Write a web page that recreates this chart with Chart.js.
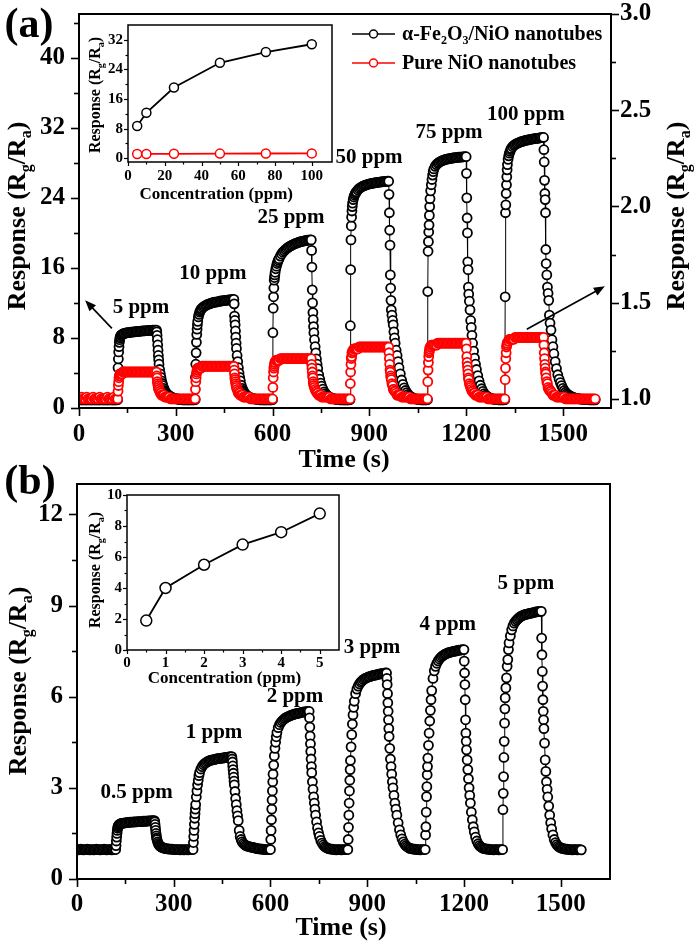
<!DOCTYPE html>
<html>
<head>
<meta charset="utf-8">
<script src="https://cdn.jsdelivr.net/npm/chart.js@4.4.0/dist/chart.umd.min.js"></script>
<style>
  body { margin: 0; background: #fff; }
  #wrap { position: relative; width: 700px; height: 947px; overflow: hidden; }
  canvas { position: absolute; }
</style>
</head>
<body>
<div id="wrap">
  <canvas id="chart-a" width="700" height="480" style="left:0;top:0"></canvas>
  <canvas id="chart-b" width="700" height="492" style="left:0;top:455px"></canvas>
  <canvas id="inset-a" width="262" height="195" style="left:80px;top:15px"></canvas>
  <canvas id="inset-b" width="268" height="210" style="left:80px;top:485px"></canvas>
</div>
<script>
// sampling times (s), shared by both transient curves
const sampleTime = [
  0,4,8,12,16,20,24,28,32,36,40,44,48,52,56,60,64,68,72,76,80,84,88,92,96,100,104,108,112,116,
  120,121,122,123,124,125,126,127,128,130,132,134,136,138,140,144,148,152,156,160,164,168,172,176,180,184,188,192,196,200,204,208,212,216,220,224,228,232,236,
  240,241,242,243,244,245,246,247,248,250,252,254,256,258,260,263,266,269,272,276,280,284,288,292,296,300,304,308,312,316,320,324,328,332,336,340,344,348,352,356,
  360,361,362,363,364,365,366,367,368,370,372,374,376,378,380,384,388,392,396,400,404,408,412,416,420,424,428,432,436,440,444,448,452,456,460,464,468,472,476,
  480,481,482,483,484,485,486,487,488,490,492,494,496,498,500,503,506,509,512,516,520,524,528,532,536,540,544,548,552,556,560,564,568,572,576,580,584,588,592,596,
  600,601,602,603,604,605,606,607,608,610,612,614,616,618,620,624,628,632,636,640,644,648,652,656,660,664,668,672,676,680,684,688,692,696,700,704,708,712,716,
  720,721,722,723,724,725,726,727,728,730,732,734,736,738,740,743,746,749,752,756,760,764,768,772,776,780,784,788,792,796,800,804,808,812,816,820,824,828,832,836,
  840,841,842,843,844,845,846,847,848,850,852,854,856,858,860,864,868,872,876,880,884,888,892,896,900,904,908,912,916,920,924,928,932,936,940,944,948,952,956,
  960,961,962,963,964,965,966,967,968,970,972,974,976,978,980,983,986,989,992,996,1000,1004,1008,1012,1016,1020,1024,1028,1032,1036,1040,1044,1048,1052,1056,1060,1064,1068,1072,1076,
  1080,1081,1082,1083,1084,1085,1086,1087,1088,1090,1092,1094,1096,1098,1100,1104,1108,1112,1116,1120,1124,1128,1132,1136,1140,1144,1148,1152,1156,1160,1164,1168,1172,1176,1180,1184,1188,1192,1196,
  1200,1201,1202,1203,1204,1205,1206,1207,1208,1210,1212,1214,1216,1218,1220,1223,1226,1229,1232,1236,1240,1244,1248,1252,1256,1260,1264,1268,1272,1276,1280,1284,1288,1292,1296,1300,1304,1308,1312,1316,
  1320,1321,1322,1323,1324,1325,1326,1327,1328,1330,1332,1334,1336,1338,1340,1344,1348,1352,1356,1360,1364,1368,1372,1376,1380,1384,1388,1392,1396,1400,1404,1408,1412,1416,1420,1424,1428,1432,1436,
  1440,1441,1442,1443,1444,1445,1446,1447,1448,1450,1452,1454,1456,1458,1460,1463,1466,1469,1472,1476,1480,1484,1488,1492,1496,1500,1504,1508,1512,1516,1520,1524,1528,1532,1536,1540,1544,1548,1552,1556,
  1560,1564,1568,1572,1576,1580,1584,1588,1592,1596,1600
];

// (a) alpha-Fe2O3/NiO nanotubes, 5-100 ppm (left axis)
const feNiOA = [
  0.94,0.93,0.93,0.94,0.93,0.92,0.93,0.94,0.93,0.93,0.92,0.93,0.94,0.93,0.93,0.93,0.92,0.93,0.94,0.93,0.93,0.93,0.92,0.93,0.94,0.93,0.93,0.92,0.93,0.93,
  0.95,4.6,5.6,6.4,7.0,7.5,7.8,8.0,8.15,8.3,8.35,8.4,8.45,8.5,8.5,8.55,8.6,8.6,8.62,8.65,8.67,8.7,8.7,8.72,8.74,8.75,8.76,8.78,8.8,8.8,8.82,8.83,8.84,8.85,8.86,8.87,8.88,8.89,8.9,
  8.9,8.7,8.3,7.8,7.2,6.6,6.0,5.5,5.0,4.4,3.9,3.5,3.1,2.8,2.55,2.25,2.0,1.8,1.65,1.5,1.4,1.3,1.22,1.16,1.1,1.06,1.03,1.0,0.97,0.95,0.94,0.93,0.94,0.93,0.93,0.92,0.93,0.94,0.93,0.93,
  0.95,3.5,5.0,6.3,7.5,8.4,9.0,9.5,9.9,10.4,10.7,10.95,11.1,11.25,11.35,11.5,11.6,11.7,11.78,11.85,11.9,11.95,12.0,12.05,12.08,12.1,12.13,12.16,12.19,12.22,12.24,12.26,12.28,12.3,12.32,12.34,12.36,12.38,12.4,
  12.4,11.9,10.5,10.0,9.5,8.8,8.1,7.4,6.8,6.0,5.3,4.6,4.0,3.5,3.1,2.6,2.25,2.0,1.8,1.6,1.45,1.33,1.24,1.17,1.11,1.07,1.04,1.01,0.98,0.95,0.94,0.93,0.94,0.93,0.92,0.93,0.93,0.94,0.93,0.93,
  0.95,8.6,11.4,12.7,13.7,14.6,14.9,15.2,15.5,15.9,16.2,16.5,16.7,16.9,17.05,17.35,17.6,17.8,17.95,18.1,18.22,18.33,18.43,18.52,18.6,18.67,18.74,18.8,18.86,18.91,18.96,19.0,19.04,19.07,19.1,19.13,19.16,19.18,19.2,
  19.2,18.0,16.1,13.5,12.0,10.9,10.1,9.3,8.6,7.8,7.0,6.3,5.6,5.0,4.5,3.8,3.3,2.85,2.5,2.15,1.85,1.65,1.48,1.36,1.26,1.18,1.12,1.07,1.03,1.0,0.97,0.95,0.94,0.93,0.94,0.93,0.92,0.93,0.93,0.93,
  0.95,9.4,15.8,19.2,20.8,21.8,22.5,23.0,23.4,23.8,24.1,24.3,24.45,24.6,24.7,24.9,25.05,25.15,25.25,25.33,25.4,25.46,25.51,25.55,25.59,25.63,25.66,25.69,25.72,25.74,25.76,25.78,25.8,25.82,25.84,25.86,25.87,25.89,25.9,
  25.9,24.4,22.3,20.3,18.6,15.2,13.7,12.3,11.2,10.6,10.0,9.5,8.7,8.0,7.4,6.6,6.0,5.3,4.6,3.9,3.2,2.7,2.3,2.0,1.75,1.55,1.4,1.3,1.2,1.13,1.08,1.04,1.0,0.97,0.95,0.94,0.93,0.94,0.93,0.93,
  0.95,13.3,17.9,19.0,20.1,20.9,22.0,23.0,23.9,24.8,25.5,26.1,26.6,27.0,27.3,27.6,27.8,27.95,28.05,28.15,28.22,28.28,28.33,28.38,28.42,28.45,28.48,28.51,28.54,28.56,28.58,28.6,28.62,28.64,28.65,28.66,28.68,28.69,28.7,
  28.7,26.8,24.0,21.7,20.0,16.7,15.8,13.8,13.0,12.2,11.2,10.0,9.2,8.3,7.4,6.5,5.7,5.0,4.4,3.7,3.1,2.6,2.2,1.9,1.65,1.48,1.35,1.25,1.17,1.11,1.06,1.02,0.99,0.97,0.95,0.94,0.93,0.94,0.93,0.93,
  0.95,12.7,22.3,23.2,24.5,25.5,26.4,27.2,27.8,28.4,28.8,29.1,29.3,29.5,29.65,29.85,30.0,30.1,30.18,30.25,30.32,30.38,30.43,30.48,30.52,30.56,30.6,30.63,30.66,30.69,30.72,30.74,30.76,30.78,30.8,30.83,30.85,30.87,30.9,
  30.9,29.5,28.1,26.0,24.5,23.8,22.3,18.1,16.5,15.2,13.8,13.1,12.3,10.6,9.7,8.9,7.8,7.0,6.2,5.3,4.5,3.8,3.3,2.9,2.55,2.25,2.0,1.8,1.65,1.52,1.42,1.34,1.27,1.21,1.16,1.12,1.09,1.06,1.04,1.02,
  1.0,0.98,0.97,0.96,0.95,0.94,0.94,0.93,0.93,0.94,0.93
];

// (a) pure NiO nanotubes (right axis)
const nioA = [
  1.0,1.0,1.01,1.0,1.0,1.0,1.01,1.0,1.0,1.0,1.0,1.01,1.0,1.0,1.0,1.0,1.01,1.0,1.0,1.0,1.0,1.0,1.01,1.0,1.0,1.0,1.0,1.01,1.0,1.0,
  1.0,1.04,1.07,1.09,1.11,1.12,1.12,1.13,1.13,1.13,1.13,1.13,1.14,
  1.14,1.14,1.14,1.14,1.14,1.14,1.14,1.14,1.14,1.14,
  1.14,1.14,1.14,1.14,1.14,1.14,1.14,1.14,1.14,1.14,
  1.14,1.14,1.14,1.14,1.14,1.14,
  1.14,1.12,1.11,1.09,1.08,1.07,1.06,1.05,1.05,1.04,1.03,1.03,1.02,1.02,1.02,1.02,1.01,1.01,1.01,1.01,1.01,
  1.0,1.0,1.0,1.0,1.0,1.0,1.0,1.0,1.0,1.0,
  1.0,1.0,1.0,1.0,1.0,1.0,1.0,1.0,1.0,
  1.0,1.05,1.09,1.11,1.13,1.14,1.15,1.15,1.16,1.16,1.16,1.16,1.16,1.16,1.17,
  1.17,1.17,1.17,1.17,1.17,1.17,1.17,1.17,1.17,1.17,
  1.17,1.17,1.17,1.17,1.17,1.17,1.17,1.17,1.17,1.17,
  1.17,1.17,1.17,1.17,
  1.17,1.15,1.13,1.11,1.1,1.09,1.08,1.07,1.06,1.05,1.04,1.03,1.03,1.03,1.02,1.02,1.02,1.01,1.01,1.01,1.01,1.01,1.01,
  1.0,1.0,1.0,1.0,1.0,1.0,1.0,1.0,1.0,1.0,
  1.0,1.0,1.0,1.0,1.0,1.0,1.0,
  1.0,1.06,1.11,1.14,1.16,1.17,1.18,1.19,1.19,1.2,1.2,1.2,1.2,1.2,1.2,1.21,
  1.21,1.21,1.21,1.21,1.21,1.21,1.21,1.21,1.21,1.21,
  1.21,1.21,1.21,1.21,1.21,1.21,1.21,1.21,1.21,1.21,
  1.21,1.21,1.21,
  1.21,1.18,1.16,1.14,1.12,1.11,1.09,1.08,1.07,1.06,1.05,1.04,1.04,1.03,1.03,1.02,1.02,1.02,1.01,1.01,1.01,1.01,1.01,1.01,1.01,
  1.0,1.0,1.0,1.0,1.0,1.0,1.0,1.0,1.0,1.0,
  1.0,1.0,1.0,1.0,1.0,
  1.0,1.08,1.14,1.18,1.21,1.22,1.24,1.24,1.25,1.25,1.26,1.26,1.26,1.26,1.26,1.26,1.27,
  1.27,1.27,1.27,1.27,1.27,1.27,1.27,1.27,1.27,1.27,
  1.27,1.27,1.27,1.27,1.27,1.27,1.27,1.27,1.27,1.27,
  1.27,1.27,
  1.27,1.24,1.21,1.18,1.15,1.14,1.12,1.11,1.1,1.08,1.07,1.05,1.05,1.04,1.04,1.03,1.02,1.02,1.02,1.02,1.01,1.01,1.01,1.01,1.01,1.01,1.01,
  1.0,1.0,1.0,1.0,1.0,1.0,1.0,1.0,1.0,1.0,
  1.0,1.0,1.0,
  1.0,1.09,1.15,1.19,1.22,1.24,1.25,1.26,1.27,1.27,1.28,1.28,1.28,1.28,1.28,1.28,1.28,1.29,
  1.29,1.29,1.29,1.29,1.29,1.29,1.29,1.29,1.29,1.29,
  1.29,1.29,1.29,1.29,1.29,1.29,1.29,1.29,1.29,1.29,
  1.29,
  1.29,1.26,1.22,1.19,1.17,1.15,1.13,1.11,1.1,1.08,1.07,1.06,1.05,1.04,1.04,1.03,1.03,1.02,1.02,1.02,1.01,1.01,1.01,1.01,1.01,1.01,1.01,
  1.0,1.0,1.0,1.0,1.0,1.0,1.0,1.0,1.0,1.0,
  1.0,1.0,1.0,
  1.0,1.1,1.16,1.21,1.24,1.27,1.28,1.29,1.29,1.3,1.3,1.31,1.31,1.31,1.31,1.31,1.31,1.32,
  1.32,1.32,1.32,1.32,1.32,1.32,1.32,1.32,1.32,1.32,
  1.32,1.32,1.32,1.32,1.32,1.32,1.32,1.32,1.32,1.32,
  1.32,
  1.32,1.28,1.24,1.21,1.18,1.16,1.14,1.13,1.11,1.09,1.08,1.06,1.05,1.05,1.04,1.04,1.03,1.02,1.02,1.02,1.01,1.01,1.01,1.01,1.01,1.01,1.01,
  1.0,1.0,1.0,1.0,1.0,1.0,1.0,1.0,1.0,1.0,
  1.0,1.0,1.0,
  1.0,1.0,1.0,1.0,1.0,1.0,1.0,1.0,1.0,1.0,1.0
];

// (b) alpha-Fe2O3/NiO nanotubes, 0.5-5 ppm
const feNiOB = [
  0.97,0.96,0.97,0.98,0.97,0.96,0.97,0.97,0.98,0.97,0.96,0.97,0.97,0.96,0.97,0.98,0.97,0.97,0.96,0.97,0.97,0.98,0.97,0.96,0.97,0.97,0.97,0.96,0.97,0.97,
  0.97,1.1,1.25,1.38,1.5,1.6,1.67,1.72,1.75,1.78,1.8,1.81,1.82,1.83,1.83,1.84,1.85,1.85,1.86,1.86,1.87,1.87,1.87,1.88,1.88,1.88,1.89,1.89,1.89,1.89,1.9,1.9,1.9,1.9,1.91,1.91,1.91,1.92,1.92,
  1.92,1.88,1.8,1.7,1.6,1.5,1.42,1.35,1.3,1.22,1.17,1.13,1.1,1.08,1.06,1.04,1.03,1.02,1.01,1.0,0.99,0.99,0.98,0.98,0.98,0.97,0.97,0.97,0.97,0.97,0.96,0.97,0.97,0.96,0.97,0.97,0.96,0.97,0.97,0.97,
  0.97,1.2,1.4,1.6,1.8,2.0,2.15,2.3,2.45,2.7,2.9,3.1,3.25,3.4,3.5,3.62,3.7,3.76,3.8,3.83,3.86,3.88,3.9,3.91,3.92,3.93,3.94,3.95,3.96,3.96,3.97,3.98,3.98,3.99,4.0,4.0,4.01,4.02,4.03,
  4.03,3.95,3.85,3.72,3.6,3.48,3.35,3.22,3.1,2.88,2.65,2.45,2.25,2.08,1.92,1.6,1.4,1.3,1.22,1.17,1.13,1.1,1.08,1.07,1.06,1.05,1.04,1.03,1.02,1.01,1.0,0.99,0.99,0.98,0.98,0.97,0.97,0.97,0.97,0.97,
  0.97,1.3,1.6,1.95,2.3,2.6,2.9,3.2,3.45,3.75,4.05,4.3,4.5,4.68,4.82,4.98,5.08,5.15,5.2,5.24,5.28,5.31,5.33,5.35,5.37,5.39,5.4,5.42,5.43,5.44,5.45,5.46,5.47,5.48,5.49,5.5,5.5,5.51,5.52,
  5.52,5.3,5.0,4.7,4.45,4.2,3.95,3.7,3.5,3.2,2.95,2.7,2.5,2.3,2.1,1.88,1.68,1.52,1.4,1.27,1.18,1.12,1.07,1.04,1.02,1.0,0.99,0.98,0.98,0.97,0.97,0.96,0.97,0.97,0.97,0.96,0.97,0.97,0.97,0.97,
  0.97,1.3,1.7,2.1,2.5,2.9,3.25,3.6,3.9,4.35,4.75,5.1,5.4,5.65,5.85,6.1,6.25,6.35,6.42,6.48,6.52,6.56,6.59,6.61,6.63,6.65,6.66,6.68,6.69,6.7,6.71,6.72,6.73,6.74,6.75,6.76,6.76,6.77,6.78,
  6.78,6.6,6.4,6.1,5.8,5.52,5.24,4.95,4.69,4.3,3.95,3.7,3.45,3.2,3.0,2.75,2.5,2.3,2.1,1.85,1.62,1.45,1.32,1.22,1.15,1.1,1.06,1.03,1.01,1.0,0.99,0.98,0.98,0.97,0.97,0.97,0.96,0.97,0.97,0.97,
  0.97,1.45,1.72,2.2,2.71,3.04,3.43,3.7,3.98,4.4,4.8,5.2,5.55,5.9,6.2,6.6,6.85,7.0,7.1,7.18,7.24,7.29,7.33,7.36,7.39,7.41,7.43,7.45,7.46,7.47,7.48,7.49,7.5,7.51,7.52,7.53,7.53,7.54,7.55,
  7.55,7.17,6.78,6.4,5.9,5.24,4.8,4.53,4.25,3.92,3.6,3.3,3.0,2.75,2.5,2.2,1.95,1.72,1.55,1.38,1.25,1.16,1.1,1.06,1.03,1.01,1.0,0.99,0.98,0.98,0.97,0.97,0.97,0.96,0.97,0.97,0.97,0.96,0.97,0.97,
  0.97,2.28,2.82,3.37,4.0,4.53,5.13,5.6,5.96,6.29,6.62,7.0,7.22,7.55,7.77,8.0,8.2,8.33,8.42,8.48,8.53,8.57,8.61,8.64,8.66,8.68,8.7,8.71,8.72,8.73,8.74,8.75,8.76,8.77,8.78,8.79,8.8,8.8,8.81,
  8.81,7.93,7.38,6.83,6.35,5.9,5.52,5.24,4.95,4.47,3.92,3.54,3.2,2.95,2.7,2.4,2.1,1.85,1.65,1.45,1.3,1.2,1.13,1.08,1.05,1.03,1.01,1.0,0.99,0.98,0.98,0.97,0.97,0.97,0.96,0.97,0.97,0.97,0.96,0.97,
  0.97,0.96
];

// insets: response vs concentration
const concA = [5, 10, 25, 50, 75, 100];
const insetFeNiOA = [8.7, 12.3, 19.1, 25.8, 28.7, 30.8];
const insetNiOA = [1.14, 1.17, 1.21, 1.27, 1.29, 1.32];
const concB = [0.5, 1, 2, 3, 4, 5];
const insetFeNiOB = [1.9, 4.0, 5.5, 6.8, 7.6, 8.8];

const doseLabelsA = ['5 ppm', '10 ppm', '25 ppm', '50 ppm', '75 ppm', '100 ppm'];
const doseLabelsB = ['0.5 ppm', '1 ppm', '2 ppm', '3 ppm', '4 ppm', '5 ppm'];

// tick values
const timeTicks = [0, 300, 600, 900, 1200, 1500];
const timeMinor = [150, 450, 750, 1050, 1350];
const respTicksA = [0, 8, 16, 24, 32, 40];
const respMinorA = [4, 12, 20, 28, 36, 44];
const ratioTicksA = [1.0, 1.5, 2.0, 2.5, 3.0];
const ratioMinorA = [1.25, 1.75, 2.25, 2.75];
const respTicksB = [0, 3, 6, 9, 12];
const respMinorB = [1.5, 4.5, 7.5, 10.5];
const concTicksA = [0, 20, 40, 60, 80, 100];
const concMinorA = [10, 30, 50, 70, 90];
const insetRespTicksA = [0, 8, 16, 24, 32];
const insetRespMinorA = [4, 12, 20, 28];
const concTicksB = [0, 1, 2, 3, 4, 5];
const concMinorB = [0.5, 1.5, 2.5, 3.5, 4.5];
const insetRespTicksB = [0, 2, 4, 6, 8, 10];
const insetRespMinorB = [1, 3, 5, 7, 9];

const FONT = "'Liberation Serif', 'Times New Roman', serif";
const RED = '#ff0000';
const RESP_TITLE = [{t: 'Response (R'}, {t: 'g', sub: true}, {t: '/R'}, {t: 'a', sub: true}, {t: ')'}];

const pts = (xs, ys) => ys.map((y, i) => ({x: xs[i], y: y}));

function axis(o) {
    return {
        type: 'linear',
        position: o.position,
        min: o.min,
        max: o.max,
        grid: { display: false, drawTicks: false },
        border: { display: false },
        afterBuildTicks: s => { s.ticks = o.ticks.map(v => ({ value: v })); },
        afterFit: s => {
            if (o.width != null) s.width = o.width;
            if (o.height != null) s.height = o.height;
            // the plot box is placed by hand, so labels may overhang it
            s.paddingTop = 0; s.paddingBottom = 0;
            s.paddingLeft = 0; s.paddingRight = 0;
        },
        ticks: {
            autoSkip: false,
            maxRotation: 0,
            padding: o.pad,
            color: '#000',
            font: { family: FONT, weight: 'bold', size: o.size },
            callback: o.fmt || (v => String(v))
        }
    };
}

// box around the plot and outward tick marks
function frameTicks(spec) {
    return {
        id: 'frameTicks',
        beforeDraw(chart) {
            if (!spec.fill) return;
            const a = chart.chartArea;
            chart.ctx.save();
            chart.ctx.fillStyle = '#fff';
            chart.ctx.fillRect(a.left, a.top, a.width, a.height);
            chart.ctx.restore();
        },
        afterDatasetsDraw(chart) {
            const { ctx, chartArea: a } = chart;
            ctx.save();
            ctx.strokeStyle = '#000';
            ctx.lineWidth = spec.tickWidth;
            spec.axes.forEach(ax => {
                const scale = chart.scales[ax.id];
                const mark = (v, len) => {
                    const p = Math.round(scale.getPixelForValue(v)) + 0.5;
                    ctx.beginPath();
                    if (ax.side === 'bottom') { ctx.moveTo(p, a.bottom); ctx.lineTo(p, a.bottom + len); }
                    else if (ax.side === 'left') { ctx.moveTo(a.left, p); ctx.lineTo(a.left - len, p); }
                    else { ctx.moveTo(a.right, p); ctx.lineTo(a.right + len, p); }
                    ctx.stroke();
                };
                ax.major.forEach(v => mark(v, spec.majorLen));
                ax.minor.forEach(v => mark(v, spec.minorLen));
            });
            ctx.lineWidth = spec.frameWidth;
            ctx.strokeRect(a.left, a.top, a.width, a.height);
            ctx.restore();
        }
    };
}

// text with subscripts; y is the baseline
function drawRich(ctx, parts, x, y, size, align, rotate) {
    ctx.save();
    ctx.translate(x, y);
    if (rotate) ctx.rotate(rotate);
    ctx.fillStyle = '#000';
    ctx.textBaseline = 'alphabetic';
    ctx.textAlign = 'left';
    const subSize = Math.round(size * 0.62);
    let w = 0;
    const widths = parts.map(p => {
        ctx.font = `bold ${p.sub ? subSize : size}px ${FONT}`;
        const pw = ctx.measureText(p.t).width;
        w += pw;
        return pw;
    });
    let cx = align === 'center' ? -w / 2 : 0;
    parts.forEach((p, i) => {
        ctx.font = `bold ${p.sub ? subSize : size}px ${FONT}`;
        ctx.fillText(p.t, cx, p.sub ? size * 0.22 : 0);
        cx += widths[i];
    });
    ctx.restore();
}

function drawArrow(ctx, x1, y1, x2, y2) {
    const ang = Math.atan2(y2 - y1, x2 - x1), L = 11, W = 4.5;
    const c = Math.cos(ang), s = Math.sin(ang);
    ctx.save();
    ctx.strokeStyle = '#000';
    ctx.fillStyle = '#000';
    ctx.lineWidth = 1.6;
    ctx.beginPath();
    ctx.moveTo(x1, y1);
    ctx.lineTo(x2 - L * 0.8 * c, y2 - L * 0.8 * s);
    ctx.stroke();
    ctx.beginPath();
    ctx.moveTo(x2, y2);
    ctx.lineTo(x2 - L * c + W * s, y2 - L * s - W * c);
    ctx.lineTo(x2 - L * c - W * s, y2 - L * s + W * c);
    ctx.closePath();
    ctx.fill();
    ctx.restore();
}

function doseNotes(chart, labels, anchors) {
    const ctx = chart.ctx, xs = chart.scales.x, ys = chart.scales.y;
    ctx.save();
    ctx.fillStyle = '#000';
    ctx.font = `bold 21px ${FONT}`;
    ctx.textAlign = 'center';
    ctx.textBaseline = 'middle';
    labels.forEach((txt, i) => {
        ctx.fillText(txt, xs.getPixelForValue(anchors[i][0]), ys.getPixelForValue(anchors[i][1]));
    });
    ctx.restore();
}

const notesA = {
    id: 'notesA',
    afterDraw(chart) {
        const ctx = chart.ctx, xs = chart.scales.x, ys = chart.scales.y;
        doseNotes(chart, doseLabelsA, [[192, 11.5], [415, 15.4], [657, 21.8], [899, 28.6], [1147, 31.5], [1385, 33.5]]);
        drawArrow(ctx, xs.getPixelForValue(102), ys.getPixelForValue(9.1), xs.getPixelForValue(19), ys.getPixelForValue(12.3));
        drawArrow(ctx, xs.getPixelForValue(1388), ys.getPixelForValue(9.0), xs.getPixelForValue(1630), ys.getPixelForValue(13.9));

        // legend
        const rows = [
            { color: '#000', y: 34, text: [{t: '\u03b1-Fe'}, {t: '2', sub: true}, {t: 'O'}, {t: '3', sub: true}, {t: '/NiO nanotubes'}] },
            { color: RED, y: 63, text: [{t: 'Pure NiO nanotubes'}] }
        ];
        rows.forEach(r => {
            ctx.save();
            ctx.strokeStyle = r.color;
            ctx.lineWidth = 1.5;
            ctx.beginPath();
            ctx.moveTo(352, r.y); ctx.lineTo(395, r.y);
            ctx.stroke();
            ctx.fillStyle = '#fff';
            ctx.beginPath();
            ctx.arc(373.5, r.y, 4, 0, Math.PI * 2);
            ctx.fill();
            ctx.stroke();
            ctx.restore();
            drawRich(ctx, r.text, 402, r.y + 6, 20, 'left');
        });

        ctx.save();
        ctx.font = `bold 42px ${FONT}`;
        ctx.textAlign = 'center';
        ctx.textBaseline = 'middle';
        ctx.fillStyle = '#000';
        ctx.fillText('(a)', 29, 26);
        ctx.restore();

        drawRich(ctx, RESP_TITLE, 25, 216, 26, 'center', -Math.PI / 2);
        drawRich(ctx, RESP_TITLE, 684, 216, 26, 'center', -Math.PI / 2);
        drawRich(ctx, [{t: 'Time (s)'}], 344, 467, 26, 'center');
    }
};

const notesB = {
    id: 'notesB',
    afterDraw(chart) {
        const ctx = chart.ctx;
        doseNotes(chart, doseLabelsB, [[185, 2.84], [425, 4.81], [676, 6.0], [915, 7.62], [1150, 8.37], [1392, 9.73]]);
        ctx.save();
        ctx.font = `bold 42px ${FONT}`;
        ctx.textAlign = 'center';
        ctx.textBaseline = 'middle';
        ctx.fillStyle = '#000';
        ctx.fillText('(b)', 30, 28);
        ctx.restore();
        drawRich(ctx, RESP_TITLE, 26, 226, 26, 'center', -Math.PI / 2);
        drawRich(ctx, [{t: 'Time (s)'}], 341, 480, 26, 'center');
    }
};

function insetNotes(xTitleValue, xTitleY, yTitleY) {
    return {
        id: 'insetNotes',
        afterDraw(chart) {
            const ctx = chart.ctx;
            drawRich(ctx, RESP_TITLE, 20, yTitleY, 16, 'center', -Math.PI / 2);
            drawRich(ctx, [{t: 'Concentration (ppm)'}], chart.scales.x.getPixelForValue(xTitleValue), xTitleY, 17, 'center');
        }
    };
}

const common = {
    responsive: false,
    animation: false,
    devicePixelRatio: 1,
    events: [],
    plugins: { legend: { display: false }, tooltip: { enabled: false } }
};

function series(data, color, axisId, order, radius, border, lineWidth) {
    return {
        data: data,
        yAxisID: axisId,
        order: order,
        borderColor: color,
        borderWidth: lineWidth,
        pointRadius: radius,
        pointBorderWidth: border,
        pointBorderColor: color,
        pointBackgroundColor: '#fff',
        tension: 0
    };
}

// panel (a)
new Chart(document.getElementById('chart-a'), {
    type: 'line',
    data: {
        datasets: [
            series(pts(sampleTime, nioA), RED, 'y2', 1, 4.5, 1.8, 1),
            series(pts(sampleTime, feNiOA), '#000', 'y', 2, 4.5, 1.8, 1)
        ]
    },
    options: {
        ...common,
        layout: { padding: { top: 14 } },
        scales: {
            x: axis({ position: 'bottom', min: 0, max: 1649, ticks: timeTicks, pad: 12, size: 25, height: 72 }),
            y: axis({ position: 'left', min: 0, max: 45, ticks: respTicksA, pad: 14, size: 25, width: 79 }),
            y2: axis({ position: 'right', min: 0.953, max: 3.0, ticks: ratioTicksA, pad: 9, size: 25, width: 89, fmt: v => v.toFixed(1) })
        }
    },
    plugins: [frameTicks({
        frameWidth: 2, tickWidth: 1.6, majorLen: 8, minorLen: 5,
        axes: [
            { id: 'x', side: 'bottom', major: timeTicks, minor: timeMinor },
            { id: 'y', side: 'left', major: respTicksA, minor: respMinorA },
            { id: 'y2', side: 'right', major: ratioTicksA, minor: ratioMinorA }
        ]
    }), notesA]
});

// panel (b)
new Chart(document.getElementById('chart-b'), {
    type: 'line',
    data: {
        datasets: [series(pts(sampleTime, feNiOB), '#000', 'y', 1, 4.5, 1.8, 1)]
    },
    options: {
        ...common,
        layout: { padding: { top: 29, right: 90 } },
        scales: {
            x: axis({ position: 'bottom', min: 0, max: 1653, ticks: timeTicks, pad: 11, size: 25, height: 68 }),
            y: axis({ position: 'left', min: 0, max: 13, ticks: respTicksB, pad: 14, size: 25, width: 77 })
        }
    },
    plugins: [frameTicks({
        frameWidth: 2, tickWidth: 1.6, majorLen: 8, minorLen: 5,
        axes: [
            { id: 'x', side: 'bottom', major: timeTicks, minor: timeMinor },
            { id: 'y', side: 'left', major: respTicksB, minor: respMinorB }
        ]
    }), notesB]
});

// inset (a)
new Chart(document.getElementById('inset-a'), {
    type: 'line',
    data: {
        datasets: [
            series(pts(concA, insetNiOA), RED, 'y', 1, 4.5, 1.5, 1.8),
            series(pts(concA, insetFeNiOA), '#000', 'y', 2, 4.5, 1.5, 1.8)
        ]
    },
    options: {
        ...common,
        layout: { padding: { top: 10, right: 10 } },
        scales: {
            x: axis({ position: 'bottom', min: 0, max: 111, ticks: concTicksA, pad: 5, size: 15, height: 48 }),
            y: axis({ position: 'left', min: -1, max: 36, ticks: insetRespTicksA, pad: 5, size: 15, width: 48 })
        }
    },
    plugins: [frameTicks({
        fill: true, frameWidth: 1.5, tickWidth: 1.2, majorLen: 4, minorLen: 2.5,
        axes: [
            { id: 'x', side: 'bottom', major: concTicksA, minor: concMinorA },
            { id: 'y', side: 'left', major: insetRespTicksA, minor: insetRespMinorA }
        ]
    }), insetNotes(48, 184, 80)]
});

// inset (b)
new Chart(document.getElementById('inset-b'), {
    type: 'line',
    data: {
        datasets: [series(pts(concB, insetFeNiOB), '#000', 'y', 1, 5.5, 1.5, 1.8)]
    },
    options: {
        ...common,
        layout: { padding: { top: 10, right: 9 } },
        scales: {
            x: axis({ position: 'bottom', min: 0, max: 5.5, ticks: concTicksB, pad: 4, size: 15, height: 45 }),
            y: axis({ position: 'left', min: 0, max: 10, ticks: insetRespTicksB, pad: 5, size: 15, width: 47 })
        }
    },
    plugins: [frameTicks({
        fill: true, frameWidth: 1.5, tickWidth: 1.2, majorLen: 4, minorLen: 2.5,
        axes: [
            { id: 'x', side: 'bottom', major: concTicksB, minor: concMinorB },
            { id: 'y', side: 'left', major: insetRespTicksB, minor: insetRespMinorB }
        ]
    }), insetNotes(2.53, 198, 85)]
});
</script>
</body>
</html>
